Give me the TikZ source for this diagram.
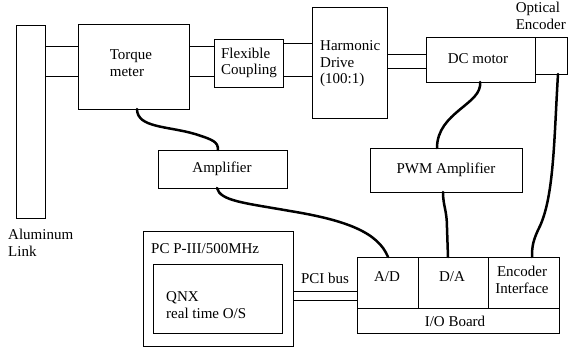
\documentclass[tikz,border=0pt]{standalone}
\usepackage{fontspec}
\setmainfont{Liberation Serif}
\begin{document}
\begin{tikzpicture}[x=1pt,y=-1pt,
  box/.style={draw, line width=0.8pt, inner sep=0pt, outer sep=0pt},
  shaft/.style={line width=0.8pt},
  cable/.style={line width=2.5pt, line cap=round},
  lbl/.style={inner sep=0pt, align=left, font=\fontsize{15}{16.5}\selectfont},
  clbl/.style={inner sep=0pt, align=center, font=\fontsize{15}{16.5}\selectfont}]
\useasboundingbox (0,0) rectangle (568,348);
% boxes
\node[box, minimum width=29pt, minimum height=193pt] (link) at (30.5,121.5) {};
\node[box, minimum width=111pt, minimum height=85pt] (tm) at (133.5,66.5) {};
\node[box, minimum width=69pt, minimum height=48pt] (fc) at (248.5,63) {};
\node[box, minimum width=75pt, minimum height=111pt] (hd) at (349.5,62.5) {};
\node[box, minimum width=109pt, minimum height=45pt] (dc) at (480.5,59.5) {};
\node[box, minimum width=32pt, minimum height=37pt] (enc) at (551,55.5) {};
\node[box, minimum width=129pt, minimum height=38pt] (amp) at (222.5,169) {};
\node[box, minimum width=152pt, minimum height=44pt] (pwm) at (446,170) {};
\node[box, minimum width=150pt, minimum height=115pt] (pc) at (218,288.5) {};
\node[box, minimum width=129pt, minimum height=69pt] (qnx) at (217.5,298.5) {};
\node[box, minimum width=61pt, minimum height=51pt] (ad) at (387.5,282.5) {};
\node[box, minimum width=70pt, minimum height=51pt] (da) at (453,282.5) {};
\node[box, minimum width=71pt, minimum height=51pt] (ei) at (523.5,282.5) {};
\node[box, minimum width=202pt, minimum height=25pt] (iob) at (458,320.5) {};
% labels
\node[lbl] (tmt) at (131,63) {Torque\\meter};
\node[lbl] (fct) at (249,63) {Flexible\\Coupling};
\node[lbl, anchor=west] (hdt) at (320,64) {Harmonic\\Drive\\(100:1)};
\node[clbl] (dct) at (478,59) {DC motor};
\node[lbl, anchor=east] (enct) at (566,16) {Optical\\Encoder};
\node[lbl, anchor=west] (linkt) at (8,243) {Aluminum\\Link};
\node[clbl] (ampt) at (222,169) {Amplifier};
\node[clbl] (pwmt) at (446,170) {PWM Amplifier};
\node[lbl, anchor=west] (pct) at (151,249) {PC P-III/500MHz};
\node[lbl, anchor=west] (qnxt) at (166,305) {QNX\\real time O/S};
\node[clbl] (pcit) at (325,278) {PCI bus};
\node[clbl] (adt) at (387,277) {A/D};
\node[clbl] (dat) at (452,277) {D/A};
\node[clbl] (eit) at (522,280) {Encoder\\Interface};
\node[clbl] (iobt) at (455,321) {I/O Board};
% shafts
\coordinate (y1) at (0,46); \coordinate (y2) at (0,76);
\coordinate (y3) at (0,43); \coordinate (y4) at (0,54);
\coordinate (y5) at (0,68); \coordinate (y6) at (0,291);
\coordinate (y7) at (0,300);
\draw[shaft] (link.east |- y1) -- (tm.west |- y1);
\draw[shaft] (link.east |- y2) -- (tm.west |- y2);
\draw[shaft] (tm.east |- y1) -- (fc.west |- y1);
\draw[shaft] (tm.east |- y2) -- (fc.west |- y2);
\draw[shaft] (fc.east |- y3) -- (hd.west |- y3);
\draw[shaft] (fc.east |- y2) -- (hd.west |- y2);
\draw[shaft] (hd.east |- y4) -- (dc.west |- y4);
\draw[shaft] (hd.east |- y5) -- (dc.west |- y5);
\draw[shaft] (pc.east |- y6) -- (ad.west |- y6);
\draw[shaft] (pc.east |- y7) -- (ad.west |- y7);
% cables
\draw[cable] ([xshift=3.5pt]tm.south) .. controls (137,128) and (168,126) .. (195,134)
  .. controls (214,140) and (218,142) .. ([xshift=-4.5pt]amp.north);
\draw[cable] ([xshift=-5.5pt]amp.south) .. controls (220,201) and (245,203) .. (290,211)
  .. controls (345,220) and (378,232) .. ([xshift=0.5pt]ad.north);
\draw[cable] ([xshift=-0.5pt]dc.south) .. controls (483,104) and (437,112) .. ([xshift=-9pt]pwm.north);
\draw[cable] ([xshift=-3pt]pwm.south) .. controls (443,206) and (447,210) .. (447,228)
  -- ([xshift=-5pt]da.north);
\draw[cable] ([xshift=7pt]enc.south) .. controls (554,140) and (554,195) .. (540,226)
  .. controls (533,240) and (532,246) .. ([xshift=8.5pt]ei.north);
\end{tikzpicture}
\end{document}
